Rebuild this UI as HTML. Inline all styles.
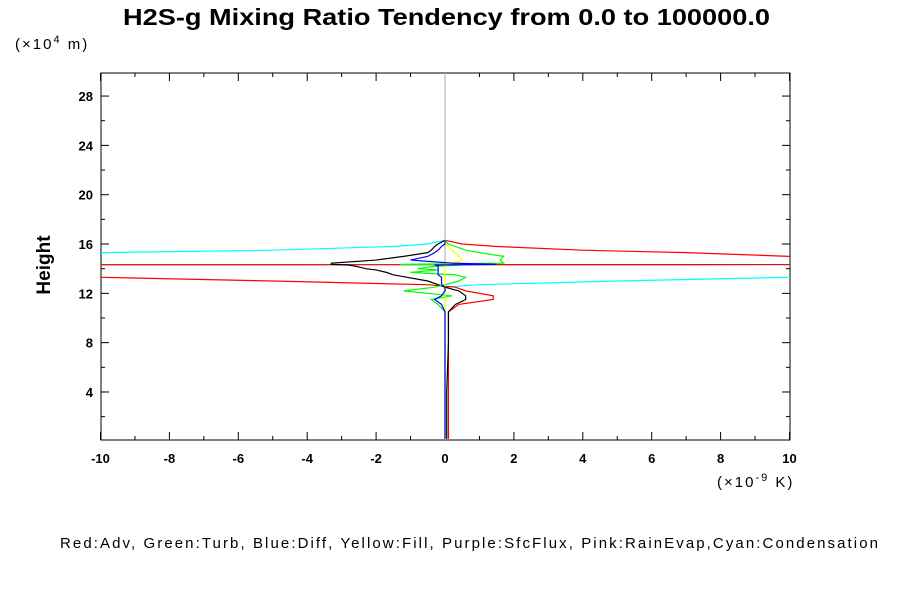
<!DOCTYPE html>
<html><head><meta charset="utf-8"><style>
body{margin:0;background:#fff;}
svg text{font-family:"Liberation Sans",sans-serif;}
</style></head><body>
<svg width="900" height="600" xmlns="http://www.w3.org/2000/svg">
<defs><clipPath id="pc"><rect x="101" y="73" width="689" height="367"/></clipPath></defs>
<text x="123" y="25" font-size="23" font-weight="bold" textLength="647" lengthAdjust="spacingAndGlyphs">H2S-g Mixing Ratio Tendency from 0.0 to 100000.0</text>
<text x="15" y="49" font-size="15" letter-spacing="2">(×10<tspan dy="-6" font-size="11">4</tspan><tspan dy="6"> m)</tspan></text>
<text x="50" y="265" font-size="19" font-weight="bold" text-anchor="middle" transform="rotate(-90 50 265)">Height</text>
<text x="717" y="487" font-size="15" letter-spacing="2">(×10<tspan dy="-6" font-size="11">-9</tspan><tspan dy="6"> K)</tspan></text>
<text x="60" y="548" font-size="15" textLength="818" lengthAdjust="spacing">Red:Adv, Green:Turb, Blue:Diff, Yellow:Fill, Purple:SfcFlux, Pink:RainEvap,Cyan:Condensation</text>
<rect x="101" y="73" width="689" height="367" fill="none" stroke="#000" stroke-width="1"/>
<g id="axes"></g>
<g id="series" clip-path="url(#pc)"></g>
<script>
const heights=[16.3,16.0,15.8,15.5,15.3,15.0,14.7,14.45,14.35,14.3,14.2,14.0,13.9,13.7,13.5,13.3,13.0,12.7,12.5,12.2,11.8,11.5,11.1,10.5,10.0,8.0,4.0,0.2];
const adv =[0,0.5,1.5,4,7,10,18,30,30,-30,-25,-18,-15,-12,-11,-10,-5,-0.5,0.3,0.6,1.4,1.4,0.4,0.1,0.1,0.1,0.1,0.1];
const turb=[0,0.1,0.3,0.6,1.0,1.7,1.6,1.7,-1.3,0.5,-0.3,-0.8,-0.2,-1.0,0.3,0.6,0.4,0,-0.3,-1.2,0.2,-0.4,-0.2,0,0,0,0,0];
const diff=[0,0,-0.1,-0.2,-0.3,-0.5,-1.0,0.2,1.5,-0.3,-0.2,-0.2,-0.2,-0.2,-0.2,-0.1,-0.1,-0.1,0,0,-0.1,-0.3,-0.1,0,0,0,0,0];
const fill=[0,0,0.1,0.2,0.3,0.4,0.5,0.2,0,0,0,0,0,0,0,0,0,0,0,0,0,0,0,0,0,0,0,0];
const cond=[0,-0.5,-1.5,-5,-10,-15,-22,-30,-30,30,25,20,18,15,12,10,5,1,0,0,0,0,0,0,0,0,0,0];
const total=[0,-0.2,-0.3,-0.4,-0.5,-1.2,-2.0,-3.3,-3.3,-2.8,-2.6,-2.3,-2.0,-1.7,-1.5,-1.1,-0.5,-0.2,0,0.4,0.6,0.6,0.3,0.1,0.1,0.1,0.05,0.05];
const xTicks=[-10,-8,-6,-4,-2,0,2,4,6,8,10];
const yTicks=[4,8,12,16,20,24,28];
const X=v=>445+v*34.45;
const Y=h=>441.3-h*12.33;
const NS="http://www.w3.org/2000/svg";
const ax=document.getElementById('axes');
function mk(t,a,p){const e=document.createElementNS(NS,t);for(const k in a)e.setAttribute(k,a[k]);p.appendChild(e);return e;}
for(let v=-10;v<=10;v++){const x=X(v),L=v%2===0?8:4;
 const t1=mk('line',{x1:x,y1:440,x2:x,y2:440-L,stroke:'#000'},ax);
 
 
 mk('line',{x1:x,y1:73,x2:x,y2:73+L,stroke:'#000'},ax);}
for(let h=2;h<=29;h+=2){const y=Y(h),L=h%4===0?8:4;
 const t2=mk('line',{x1:101,y1:y,x2:101+L,y2:y,stroke:'#000'},ax);
 
 
 mk('line',{x1:790,y1:y,x2:790-L,y2:y,stroke:'#000'},ax);}
xTicks.forEach(v=>{const t=mk('text',{x:X(v),y:463,'text-anchor':'middle','font-size':13,'font-weight':'bold'},ax);t.textContent=v;
 
 });
yTicks.forEach(h=>{const t=mk('text',{x:93,y:Y(h)+5,'text-anchor':'end','font-size':13,'font-weight':'bold'},ax);t.textContent=h;
 
 });
const sg=document.getElementById('series');
const zl=mk('line',{x1:X(0),y1:73,x2:X(0),y2:440,stroke:'#aaa'},sg);


[[cond,'#00ffff','cyan-condensation'],[adv,'#ff0000','red-adv'],[total,'#000','black-total'],[turb,'#00ff00','green-turb'],[fill,'#ffff00','yellow-fill'],[diff,'#0000ff','blue-diff']].forEach(([d,c,n])=>{
 const p=mk('polyline',{points:d.map((v,i)=>X(v)+','+Y(heights[i])).join(' '),fill:'none',stroke:c,'stroke-width':1.2},sg);
 
 });
</script>
</svg>
</body></html>
